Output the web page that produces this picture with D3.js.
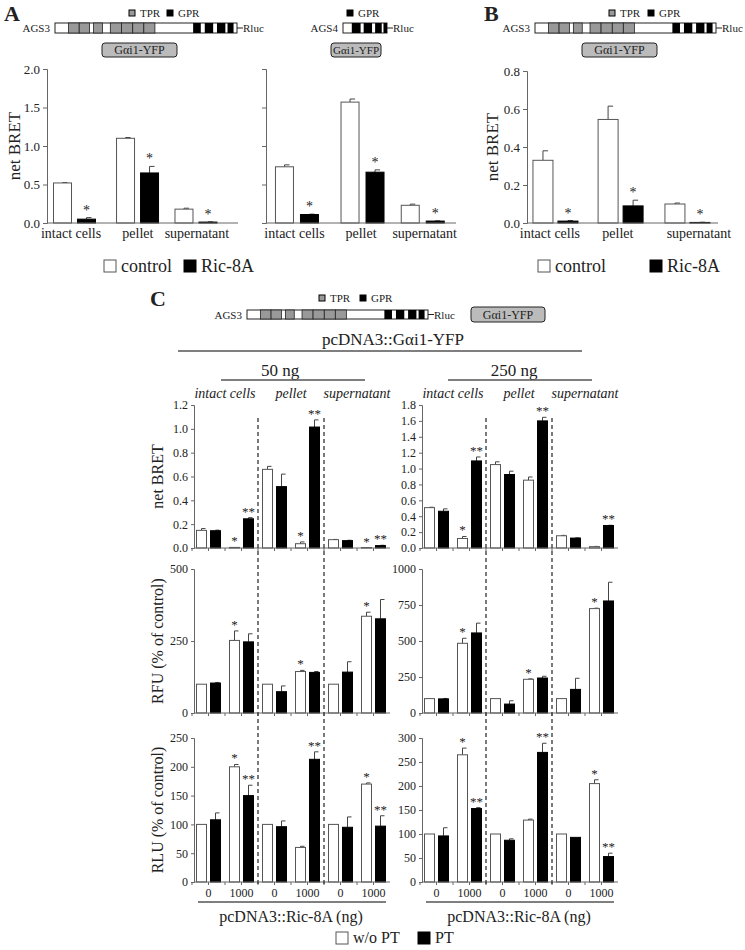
<!DOCTYPE html>
<html><head><meta charset="utf-8">
<script src="https://cdn.jsdelivr.net/npm/d3@7"></script>
<style>body{margin:0;background:#fff}svg{display:block}svg text{font-family:"Liberation Serif","Times New Roman",Times,"DejaVu Serif",serif !important;fill:#222}</style>
</head><body><svg id="c" width="745" height="950" font-family="Liberation Serif, Times New Roman, serif"></svg>
<script>
// ---------- DATA ----------
const fractions = ["intact cells","pellet","supernatant"];
// Panel A (AGS3-Rluc)
const aAGS3Control = [0.52, 1.10, 0.18];
const aAGS3ControlErr = [0.005, 0.01, 0.012];
const aAGS3Ric = [0.05, 0.65, 0.012];
const aAGS3RicErr = [0.02, 0.085, 0.003];
const aAGS3Stars = ["*","*","*"];
// Panel A (AGS4-Rluc)
const aAGS4Control = [0.73, 1.57, 0.23];
const aAGS4ControlErr = [0.025, 0.04, 0.015];
const aAGS4Ric = [0.11, 0.66, 0.025];
const aAGS4RicErr = [0.005, 0.03, 0.003];
const aAGS4Stars = ["*","*","*"];
// Panel B
const bControl = [0.33, 0.545, 0.10];
const bControlErr = [0.05, 0.07, 0.005];
const bRic = [0.01, 0.09, 0.003];
const bRicErr = [0.003, 0.03, 0.001];
const bStars = ["*","*","*"];
// Panel C (x: 3 fractions x Ric-8A 0/1000 ng)
const ricDoses = ["0","1000"];
const c50BretNoPT = [0.148, 0.005, 0.66, 0.036, 0.07, 0.004];
const c50BretNoPTErr = [0.015, 0, 0.025, 0.015, 0.002, 0];
const c50BretPT = [0.145, 0.245, 0.515, 1.015, 0.062, 0.02];
const c50BretPTErr = [0.005, 0.01, 0.105, 0.06, 0.003, 0.003];
const c50BretStarsNoPT = ["","*","","*","","*"];
const c50BretStarsPT = ["","**","","**","","**"];

const c250BretNoPT = [0.508, 0.12, 1.05, 0.854, 0.154, 0.017];
const c250BretNoPTErr = [0.005, 0.025, 0.035, 0.04, 0.005, 0.003];
const c250BretPT = [0.4625, 1.096, 0.925, 1.6, 0.125, 0.283];
const c250BretPTErr = [0.03, 0.05, 0.042, 0.045, 0.003, 0.003];
const c250BretStarsNoPT = ["","*","","","",""];
const c250BretStarsPT = ["","**","","**","","**"];

const c50RfuNoPT = [100, 252, 100, 144, 100, 336];
const c50RfuNoPTErr = [0, 33, 0, 4, 0, 14];
const c50RfuPT = [104, 247, 74, 141, 142, 327];
const c50RfuPTErr = [2, 28, 20, 3, 36, 67];
const c50RfuStarsNoPT = ["","*","","*","","*"];
const c50RfuStarsPT = ["","","","","",""];

const c250RfuNoPT = [100, 484, 100, 234, 100, 725];
const c250RfuNoPTErr = [0, 35, 0, 3, 0, 3];
const c250RfuPT = [98, 556, 62, 243, 164, 778];
const c250RfuPTErr = [3, 68, 23, 12, 77, 130];
const c250RfuStarsNoPT = ["","*","","*","","*"];
const c250RfuStarsPT = ["","","","","",""];

const c50RluNoPT = [100, 200, 100, 60, 100, 170];
const c50RluNoPTErr = [0, 4, 0, 2, 0, 2];
const c50RluPT = [108, 150, 96, 213, 95, 97];
const c50RluPTErr = [12, 18, 10, 13, 18, 18];
const c50RluStarsNoPT = ["","*","","","","*"];
const c50RluStarsPT = ["","**","","**","","**"];

const c250RluNoPT = [100, 265, 100, 129, 100, 205];
const c250RluNoPTErr = [0, 14, 0, 2, 0, 8];
const c250RluPT = [96, 153, 87, 270, 93, 53];
const c250RluPTErr = [17, 2, 3, 19, 0, 7];
const c250RluStarsNoPT = ["","*","","","","*"];
const c250RluStarsPT = ["","**","","**","","**"];

const bretTicks50 = [0,0.2,0.4,0.6,0.8,1.0,1.2];
const bretTicks250 = [0,0.2,0.4,0.6,0.8,1.0,1.2,1.4,1.6,1.8];
const rfuTicks50 = [0,250,500];
const rfuTicks250 = [0,250,500,750,1000];
const rluTicks50 = [0,50,100,150,200,250];
const rluTicks250 = [0,50,100,150,200,250,300];
const ags3Gray = [[0.074,0.133],[0.133,0.190],[0.212,0.261],[0.304,0.365],[0.365,0.427],[0.427,0.488],[0.488,0.549]];
const ags3Black = [[0.759,0.801],[0.823,0.869],[0.890,0.936],[0.948,0.981]];
const ags4Black = [[0.2,0.4],[0.47,0.66],[0.73,0.88],[0.92,1.0]];

// ---------- DRAW ----------
const FONT = "Liberation Serif, Times New Roman, serif";
const svg = d3.select("#c");
const AX = "#666";

function construct(x, y, w, h, name, grays, blacks) {
  const g = svg.append("g");
  g.append("text").attr("x", x-5).attr("y", y+h/2+4).attr("text-anchor","end").attr("font-size",11).text(name);
  g.append("rect").attr("x",x).attr("y",y).attr("width",w).attr("height",h).attr("fill","#fff").attr("stroke","#222").attr("stroke-width",1);
  grays.forEach(s=>g.append("rect").attr("x",x+s[0]*w).attr("y",y).attr("width",(s[1]-s[0])*w).attr("height",h).attr("fill","#999").attr("stroke","#222").attr("stroke-width",0.8));
  blacks.forEach(s=>g.append("rect").attr("x",x+s[0]*w).attr("y",y).attr("width",(s[1]-s[0])*w).attr("height",h).attr("fill","#000"));
  g.append("line").attr("x1",x+w).attr("x2",x+w+6).attr("y1",y+h/2).attr("y2",y+h/2).attr("stroke","#222");
  g.append("text").attr("x",x+w+6).attr("y",y+h/2+4).attr("font-size",11).text("Rluc");
  return g;
}
function keyItem(x, y, fill, label, size, fs) {
  svg.append("rect").attr("x",x).attr("y",y-size/2).attr("width",size).attr("height",size).attr("fill",fill).attr("stroke", fill==="#fff"?"#555":"#000").attr("stroke-width",1);
  svg.append("text").attr("x",x+size+5).attr("y",y+fs*0.33).attr("font-size",fs).text(label);
}
function gaiBox(x,y,w,h,fs){
  svg.append("rect").attr("x",x).attr("y",y).attr("width",w).attr("height",h).attr("rx",3).attr("fill","#bbb").attr("stroke","#222");
  svg.append("text").attr("x",x+w/2).attr("y",y+h/2+4).attr("text-anchor","middle").attr("font-size",fs||12).text("Gαi1-YFP");
}

// Panel A/B type bar chart; group centres given as fractions of axis width (layout)
function simplePanel(o) {
  const g = svg.append("g");
  const y = d3.scaleLinear().domain([0,o.max]).range([o.y1,o.y0]);
  const W = o.x1-o.x0;
  const x = d3.scaleOrdinal().domain(fractions).range(o.centres.map(c=>o.x0+c*W));
  const lx = d3.scaleOrdinal().domain(fractions).range(o.lab.map(c=>o.x0+c*W));
  const bw = o.bw, gap = o.gap;
  const ya = g.append("g").attr("transform",`translate(${o.x0},0)`).call(d3.axisLeft(y).tickValues(o.ticks).tickSize(4).tickFormat(o.labels?d3.format(".1f"):""));
  ya.attr("font-family",FONT);
  ya.select(".domain").attr("stroke",AX); ya.selectAll("line").attr("stroke",AX);
  ya.selectAll("text").attr("font-size",13).attr("fill","#222");
  fractions.forEach((f,i)=>{
    const items = [{dx:-gap/2-bw,v:o.ctl[i],e:o.ctlErr[i],fill:"#fff",s:""},{dx:gap/2,v:o.ric[i],e:o.ricErr[i],fill:"#000",s:o.stars[i]}];
    items.forEach(it=>{
      const bx = x(f)+it.dx;
      g.append("line").attr("x1",bx+bw/2).attr("x2",bx+bw/2).attr("y1",y(it.v)).attr("y2",y(it.v+it.e)).attr("stroke","#444");
      g.append("line").attr("x1",bx+bw/2).attr("x2",bx+bw/2+5).attr("y1",y(it.v+it.e)).attr("y2",y(it.v+it.e)).attr("stroke","#444");
      g.append("rect").attr("x",bx).attr("y",y(it.v)).attr("width",bw).attr("height",o.y1-y(it.v)).attr("fill",it.fill).attr("stroke",it.fill==="#fff"?"#555":"#000").attr("stroke-width",1);
      if(it.s) g.append("text").attr("x",bx+bw/2).attr("y",y(it.v+it.e)-3).attr("text-anchor","middle").attr("font-size",14).text(it.s);
    });
    g.append("text").attr("x",lx(f)).attr("y",o.y1+15).attr("text-anchor","middle").attr("font-size",14).text(f);
  });
  g.append("line").attr("x1",o.x0).attr("x2",o.x1).attr("y1",o.y1).attr("y2",o.y1).attr("stroke",AX);
  if(o.ylabel) g.append("text").attr("transform",`translate(${o.x0-o.yl},${(o.y0+o.y1)/2}) rotate(-90)`).attr("text-anchor","middle").attr("font-size",17).text(o.ylabel);
}

svg.append("text").attr("x",4).attr("y",21).attr("font-size",22).attr("font-weight","bold").text("A");
svg.append("text").attr("x",484).attr("y",21).attr("font-size",22).attr("font-weight","bold").text("B");
svg.append("text").attr("x",150).attr("y",306).attr("font-size",22).attr("font-weight","bold").text("C");

// constructs panel A
construct(55,23,182,10,"AGS3",ags3Gray,ags3Black);
keyItem(129,13,"#999","TPR",6,11); keyItem(167,13,"#000","GPR",6,11);
gaiBox(102,43,75,14);
construct(343,23,44,10,"AGS4",[],ags4Black);
keyItem(347,13,"#000","GPR",6,11);
gaiBox(331,43,50,14,11);
// panel B construct
construct(535,23,181,10,"AGS3",ags3Gray,ags3Black);
keyItem(609,13,"#999","TPR",6,11); keyItem(648,13,"#000","GPR",6,11);
gaiBox(582,43,75,14);

simplePanel({x0:47,x1:238,y0:69,y1:223,max:2.0,ticks:[0,0.5,1.0,1.5,2.0],labels:true,bw:18,gap:6,centres:[0.144,0.474,0.78],lab:[0.126,0.476,0.785],ctl:aAGS3Control,ctlErr:aAGS3ControlErr,ric:aAGS3Ric,ricErr:aAGS3RicErr,stars:aAGS3Stars,ylabel:"net BRET",yl:27});
simplePanel({x0:266,x1:456,y0:69,y1:223,max:2.0,ticks:[0,0.5,1.0,1.5,2.0],labels:false,bw:18,gap:7,centres:[0.163,0.508,0.825],lab:[0.15,0.5,0.835],ctl:aAGS4Control,ctlErr:aAGS4ControlErr,ric:aAGS4Ric,ricErr:aAGS4RicErr,stars:aAGS4Stars});
simplePanel({x0:527,x1:718,y0:71,y1:223,max:0.8,ticks:[0,0.2,0.4,0.6,0.8],labels:true,bw:20,gap:5,centres:[0.149,0.490,0.84],lab:[0.12,0.476,0.9],ctl:bControl,ctlErr:bControlErr,ric:bRic,ricErr:bRicErr,stars:bStars,ylabel:"net BRET",yl:29});

keyItem(104,266,"#fff","control",12,18); keyItem(184,266,"#000","Ric-8A",12,18);
keyItem(538,266,"#fff","control",12,18); keyItem(650,266,"#000","Ric-8A",12,18);

// Panel C header
construct(247,310,181,9,"AGS3",ags3Gray,ags3Black);
keyItem(319,298,"#999","TPR",6,11); keyItem(360,298,"#000","GPR",6,11);
gaiBox(471,307,74,15);
svg.append("text").attr("x",393).attr("y",345).attr("text-anchor","middle").attr("font-size",17).text("pcDNA3::Gαi1-YFP");
svg.append("line").attr("x1",178).attr("x2",582).attr("y1",351).attr("y2",351).attr("stroke","#555").attr("stroke-width",1.5);
[["50 ng",280,221,365],["250 ng",514,448,592]].forEach(d=>{
  svg.append("text").attr("x",d[1]).attr("y",376).attr("text-anchor","middle").attr("font-size",17).text(d[0]);
  svg.append("line").attr("x1",d[2]).attr("x2",d[3]).attr("y1",380).attr("y2",380).attr("stroke","#555").attr("stroke-width",1.5);
});

const cGroups = d3.range(6).map(i=>fractions[Math.floor(i/2)]+"|"+ricDoses[i%2]);
function cPanel(o){
  const g = svg.append("g");
  const x = d3.scaleBand().domain(cGroups).range([o.x0-2,o.x0+196]);
  const y = d3.scaleLinear().domain([0,o.max]).range([o.y1,o.y0]);
  const ya = g.append("g").attr("transform",`translate(${o.x0},0)`).call(d3.axisLeft(y).tickValues(o.ticks).tickSize(3).tickFormat(o.fmt));
  ya.attr("font-family",FONT);
  ya.select(".domain").attr("stroke",AX); ya.selectAll("line").attr("stroke",AX);
  ya.selectAll("text").attr("font-size",12).attr("fill","#222");
  const bw = 10;
  cGroups.forEach((k,i)=>{
    const cx = x(k)+x.bandwidth()/2;
    [{v:o.w[i],e:o.we[i],s:o.ws[i],fill:"#fff",dx:-7},{v:o.b[i],e:o.be[i],s:o.bs[i],fill:"#000",dx:7}].forEach(it=>{
      const bx = cx+it.dx-bw/2;
      const top = y(it.v+it.e);
      if(it.e>0){
        g.append("line").attr("x1",bx+bw/2).attr("x2",bx+bw/2).attr("y1",y(it.v)).attr("y2",top).attr("stroke","#444");
        g.append("line").attr("x1",bx+bw/2).attr("x2",bx+bw/2+4).attr("y1",top).attr("y2",top).attr("stroke","#444");
      }
      g.append("rect").attr("x",bx).attr("y",y(it.v)).attr("width",bw).attr("height",o.y1-y(it.v)).attr("fill",it.fill).attr("stroke",it.fill==="#fff"?"#555":"#000").attr("stroke-width",1);
      if(it.s) g.append("text").attr("x",bx+bw/2).attr("y",top-2).attr("text-anchor","middle").attr("font-size",13).text(it.s);
    });
    [x(k), cx].forEach(tx=>g.append("line").attr("x1",tx).attr("x2",tx).attr("y1",o.y1).attr("y2",o.y1+3).attr("stroke",AX));
  });
  g.append("line").attr("x1",o.x0).attr("x2",o.x0+196).attr("y1",o.y1).attr("y2",o.y1).attr("stroke",AX);
  if(o.ylabel) g.append("text").attr("transform",`translate(${o.x0-31},${(o.y0+o.y1)/2}) rotate(-90)`).attr("text-anchor","middle").attr("font-size",16).text(o.ylabel);
  return x;
}
const rows = [{y0:405,y1:548},{y0:569,y1:713},{y0:738,y1:882}];
const f1 = d3.format(".1f"), f0 = d3.format("d");
const xl = cPanel({x0:194,...rows[0],max:1.2,ticks:bretTicks50,fmt:f1,w:c50BretNoPT,we:c50BretNoPTErr,b:c50BretPT,be:c50BretPTErr,ws:c50BretStarsNoPT,bs:c50BretStarsPT,ylabel:"net BRET"});
const xr = cPanel({x0:422,...rows[0],max:1.8,ticks:bretTicks250,fmt:f1,w:c250BretNoPT,we:c250BretNoPTErr,b:c250BretPT,be:c250BretPTErr,ws:c250BretStarsNoPT,bs:c250BretStarsPT});
cPanel({x0:194,...rows[1],max:500,ticks:rfuTicks50,fmt:f0,w:c50RfuNoPT,we:c50RfuNoPTErr,b:c50RfuPT,be:c50RfuPTErr,ws:c50RfuStarsNoPT,bs:c50RfuStarsPT,ylabel:"RFU (% of control)"});
cPanel({x0:422,...rows[1],max:1000,ticks:rfuTicks250,fmt:f0,w:c250RfuNoPT,we:c250RfuNoPTErr,b:c250RfuPT,be:c250RfuPTErr,ws:c250RfuStarsNoPT,bs:c250RfuStarsPT});
cPanel({x0:194,...rows[2],max:250,ticks:rluTicks50,fmt:f0,w:c50RluNoPT,we:c50RluNoPTErr,b:c50RluPT,be:c50RluPTErr,ws:c50RluStarsNoPT,bs:c50RluStarsPT,ylabel:"RLU (% of control)"});
cPanel({x0:422,...rows[2],max:300,ticks:rluTicks250,fmt:f0,w:c250RluNoPT,we:c250RluNoPTErr,b:c250RluPT,be:c250RluPTErr,ws:c250RluStarsNoPT,bs:c250RluStarsPT});

[xl,xr].forEach(x=>{
  [2,4].forEach(i=>{ const dx = x(cGroups[i]);
    svg.append("line").attr("x1",dx).attr("x2",dx).attr("y1",418).attr("y2",886).attr("stroke","#333").attr("stroke-width",1.3).attr("stroke-dasharray","4,3"); });
  fractions.forEach((f,j)=>{
    const cx = (x(cGroups[2*j])+x(cGroups[2*j+1])+x.bandwidth())/2;
    svg.append("text").attr("x",cx).attr("y",398).attr("text-anchor","middle").attr("font-size",14).attr("font-style","italic").text(f);
  });
  cGroups.forEach(k=>svg.append("text").attr("x",x(k)+x.bandwidth()/2).attr("y",897).attr("text-anchor","middle").attr("font-size",12).text(k.split("|")[1]));
  const r = x.range();
  svg.append("line").attr("x1",r[0]+6).attr("x2",r[1]-4).attr("y1",902).attr("y2",902).attr("stroke","#555").attr("stroke-width",1.3);
  svg.append("text").attr("x",(r[0]+r[1])/2).attr("y",922).attr("text-anchor","middle").attr("font-size",16).text("pcDNA3::Ric-8A (ng)");
});
keyItem(336,938,"#fff","w/o PT",12,16); keyItem(418,938,"#000","PT",12,16);
</script></body></html>
